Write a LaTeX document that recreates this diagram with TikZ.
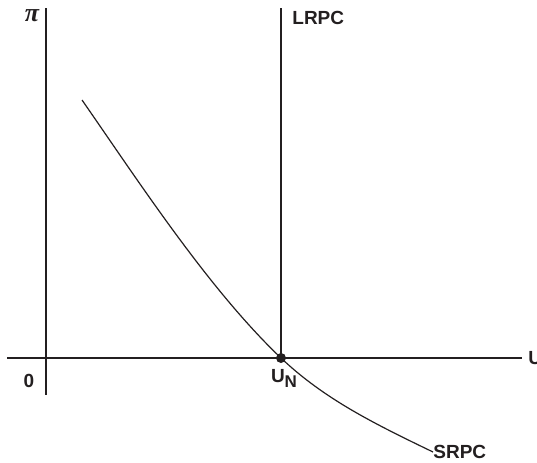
\documentclass[tikz,border=0pt]{standalone}
\usepackage{fontspec}
\setmainfont{Liberation Sans}
\newfontfamily\greekfont{Liberation Serif}
\usetikzlibrary{calc}
\definecolor{Ink}{HTML}{231F20}

\tikzset{
  axisline/.style={line width=1.2pt, Ink},
  curveline/.style={line width=0.6pt, Ink},
  lab/.style={text=Ink, inner sep=0pt, font=\fontsize{9.5}{11}\selectfont\bfseries}
}

\begin{document}
\begin{tikzpicture}[x=0.5pt, y=0.5pt]
  \useasboundingbox (0,0) rectangle (537,462);

  % ===== AXES =====
  \coordinate (origin) at (46,104);
  \draw[axisline] (46,454) -- (46,67);
  \draw[axisline] (7,104) -- (522,104);
  \node[anchor=center, text=Ink, inner sep=0pt,
        font=\fontsize{13}{14}\selectfont\greekfont\bfseries\itshape] (pi) at (32,446) {π};
  \node[lab, anchor=west] (uaxis) at (528,104) {U};
  \node[lab] (zero) at (29,81) {0};

  % ===== LRPC =====
  \coordinate (un) at (281,104);
  \draw[axisline] (281,454) -- (un);
  \node[lab, anchor=west] (lrpc) at (292,444) {LRPC};

  % ===== SRPC =====
  \node[lab, anchor=west] (srpc) at (433,10) {SRPC};
  \draw[curveline] (82,362) .. controls (139,280) and (208.5,173) .. (un)
        .. controls (324.5,62.7) and (375,38) .. (srpc.west);

  % natural rate
  \fill[Ink] (un) circle (5);
  \node[lab] (unlab) at (284,84) {U\raisebox{-0.5ex}{\fontsize{8.5}{9}\selectfont N}};

\end{tikzpicture}
\end{document}
